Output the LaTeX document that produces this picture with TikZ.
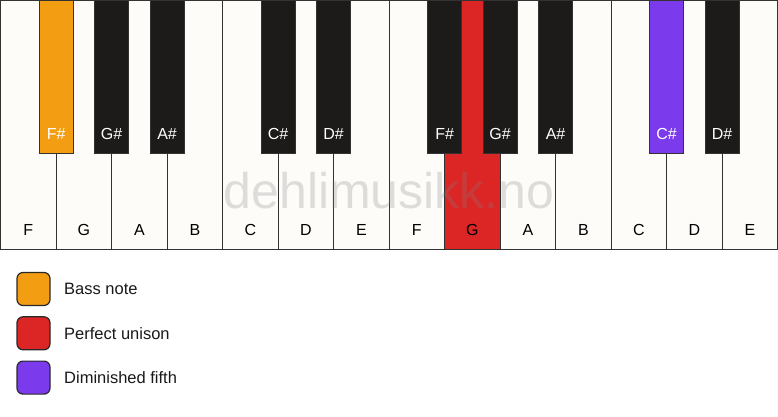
\documentclass[tikz,border=0pt]{standalone}
\usepackage{fontspec}
\setmainfont{Liberation Sans}
\usepackage{tikz}
\usetikzlibrary{positioning}

\definecolor{keywhite}{RGB}{253,252,249}
\definecolor{keyblack}{RGB}{28,27,25}
\definecolor{keyline}{RGB}{51,51,51}
\definecolor{bass}{RGB}{243,158,18}
\definecolor{unison}{RGB}{220,38,38}
\definecolor{dimfifth}{RGB}{124,58,237}

\tikzset{
  whitekey/.style={draw=keyline,line width=1.2pt,fill=keywhite,outer sep=0pt,inner sep=0pt,
    minimum width=55.5pt,minimum height=249pt},
  blackkey/.style={draw=keyline,line width=1.2pt,fill=keyblack,outer sep=0pt,inner sep=0pt,
    minimum width=34pt,minimum height=153pt,anchor=north},
  keytext/.style={font=\fontsize{16}{16}\selectfont,text height=11.5pt,text depth=0pt,
    inner sep=0pt,label distance=-25.75pt},
  legendbox/.style={draw=keyline!80!black,line width=1.2pt,rounded corners=6pt,
    minimum size=33pt,inner sep=0pt,outer sep=0pt},
  legendtext/.style={font=\fontsize{16.5}{16.5}\selectfont,text height=11.8pt,text depth=0pt,
    inner sep=0pt,anchor=west,text=black!90}
}

\begin{document}
\begin{tikzpicture}[x=1pt,y=1pt,node distance=55.5pt]
  \useasboundingbox (0,0) rectangle (778,-417);
  % white keys
  \node[whitekey] (f1) at (28.35,-125.1)[label={[keytext]south:F}]{};
  \node[right of =f1,whitekey](g1)[label={[keytext]south:G}]{};
  \node[right of =g1,whitekey](a1)[label={[keytext]south:A}]{};
  \node[right of =a1,whitekey](b1)[label={[keytext]south:B}]{};
  \node[right of =b1,whitekey](c1)[label={[keytext]south:C}]{};
  \node[right of =c1,whitekey](d1)[label={[keytext]south:D}]{};
  \node[right of =d1,whitekey](e1)[label={[keytext]south:E}]{};
  \node[right of =e1,whitekey](f2)[label={[keytext]south:F}]{};
  \node[right of =f2,whitekey,fill=unison](g2)[label={[keytext]south:G}]{};
  \node[right of =g2,whitekey](a2)[label={[keytext]south:A}]{};
  \node[right of =a2,whitekey](b2)[label={[keytext]south:B}]{};
  \node[right of =b2,whitekey](c2)[label={[keytext]south:C}]{};
  \node[right of =c2,whitekey](d2)[label={[keytext]south:D}]{};
  \node[right of =d2,whitekey](e2)[label={[keytext]south:E}]{};

  \node[font=\fontsize{50}{50}\selectfont,text=black!50,text opacity=0.25,anchor=base,inner sep=0pt]
    (mark) at (389,-208.3){dehlimusikk.no};

  % black keys
  \node[blackkey,fill=bass] (fs1) at (f1.north east)[label={[keytext,text=white]south:F\#}]{};
  \node[blackkey] (gs1) at (g1.north east)[label={[keytext,text=white]south:G\#}]{};
  \node[blackkey] (as1) at (a1.north east)[label={[keytext,text=white]south:A\#}]{};
  \node[blackkey] (cs1) at (c1.north east)[label={[keytext,text=white]south:C\#}]{};
  \node[blackkey] (ds1) at (d1.north east)[label={[keytext,text=white]south:D\#}]{};
  \node[blackkey] (fs2) at (f2.north east)[label={[keytext,text=white]south:F\#}]{};
  \node[blackkey] (gs2) at (g2.north east)[label={[keytext,text=white]south:G\#}]{};
  \node[blackkey] (as2) at (a2.north east)[label={[keytext,text=white]south:A\#}]{};
  \node[blackkey,fill=dimfifth] (cs2) at (c2.north east)[label={[keytext,text=white]south:C\#}]{};
  \node[blackkey] (ds2) at (d2.north east)[label={[keytext,text=white]south:D\#}]{};

  % legend
  \node[legendbox,fill=bass] (lbass) at (33.5,-289){};
  \node[legendbox,fill=unison,below=11.3pt of lbass] (lunison){};
  \node[legendbox,fill=dimfifth,below=11.3pt of lunison] (lfifth){};
  \node[legendtext,right=14pt of lbass] (tbass){Bass note};
  \node[legendtext,right=14pt of lunison] (tunison){Perfect unison};
  \node[legendtext,right=14pt of lfifth] (tfifth){Diminished fifth};
\end{tikzpicture}
\end{document}
